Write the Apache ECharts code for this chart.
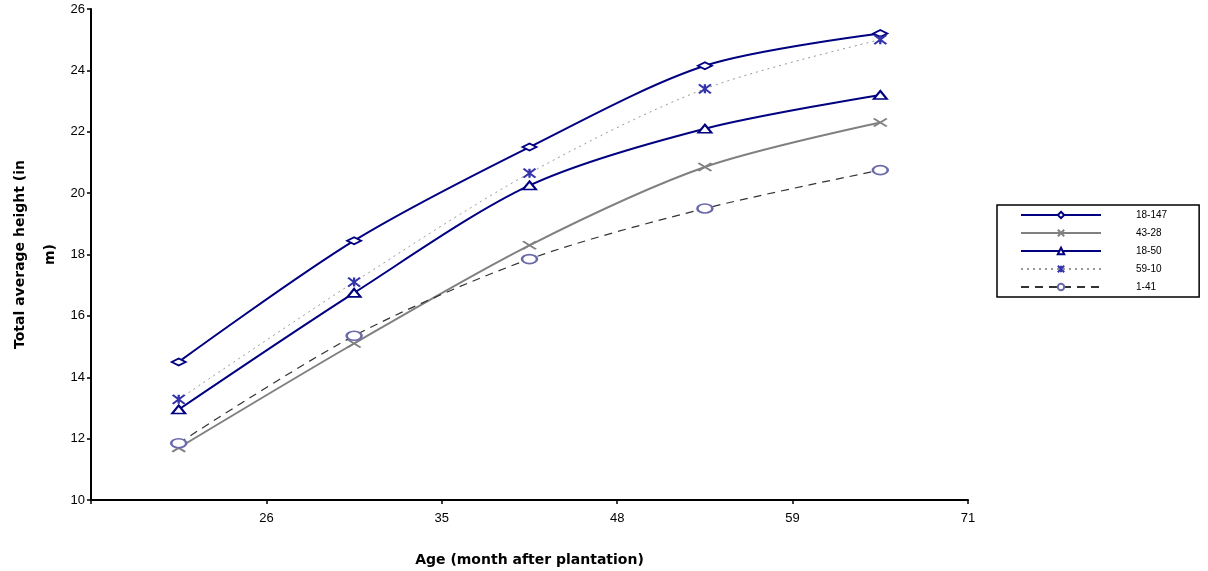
<!DOCTYPE html>
<html>
<head>
<meta charset="utf-8">
<script src="https://cdn.jsdelivr.net/npm/echarts@6/dist/echarts.min.js"></script>
<style>html,body{margin:0;padding:0;background:#fff}#c{width:1208px;height:571px}</style>
</head>
<body>
<div id="c"></div>
<script>
// Tick labels on the x axis (first tick at origin is unlabeled)
const xTickLabels = ['', '26', '35', '48', '59', '71'];
// Observations sit in the middle of each tick interval
const obsIndex = [0, 1, 2, 3, 4];
const seriesNames = ['18-147', '43-28', '18-50', '59-10', '1-41'];
const s18_147 = [14.5, 18.45, 21.5, 24.15, 25.2];
const s43_28  = [11.7, 15.1, 18.3, 20.85, 22.3];
const s18_50  = [12.95, 16.75, 20.25, 22.1, 23.2];
const s59_10  = [13.28, 17.1, 20.65, 23.4, 25.0];
const s1_41   = [11.85, 15.35, 17.85, 19.5, 20.75];

const pts = arr => arr.map((v, i) => [obsIndex[i] + 0.5, v]);
const FONT = 'Liberation Sans';

const chart = echarts.init(document.getElementById('c'), null, {renderer: 'canvas'});
const option = {
  animation: false,
  backgroundColor: '#fff',
  grid: {left: 91, right: 240, top: 9, bottom: 71, containLabel: false, outerBoundsMode: 'none'},
  xAxis: {
    type: 'value', min: 0, max: 5, interval: 1,
    axisLine: {lineStyle: {color: '#000', width: 2}},
    axisTick: {length: 4, lineStyle: {color: '#000', width: 1.5}},
    splitLine: {show: false},
    axisLabel: {color: '#000', fontFamily: FONT, fontSize: 13, margin: 12,
      formatter: v => xTickLabels[Math.round(v)] || ''},
    name: 'Age (month after plantation)', nameLocation: 'middle', nameGap: 53,
    nameMoveOverlap: false,
    nameTextStyle: {color: '#000', fontFamily: 'DejaVu Sans', fontWeight: 'bold', fontSize: 14}
  },
  yAxis: {
    type: 'value', min: 10, max: 26, interval: 2,
    axisLine: {show: true, lineStyle: {color: '#000', width: 2}},
    axisTick: {show: true, length: 4, lineStyle: {color: '#000', width: 1.5}},
    splitLine: {show: false},
    axisLabel: {color: '#000', fontFamily: FONT, fontSize: 13, margin: 6},
    name: 'Total average height (in\nm)', nameLocation: 'middle', nameGap: 26,
    nameMoveOverlap: false,
    nameTextStyle: {color: '#000', fontFamily: 'DejaVu Sans', fontWeight: 'bold', fontSize: 14, lineHeight: 30}
  },
  legend: {
    orient: 'vertical', left: 997, top: 205,
    padding: [5, 32, 5, 23],
    borderColor: '#000', borderWidth: 1.5,
    itemWidth: 80, itemHeight: 8, itemGap: 8,
    textStyle: {color: '#000', fontFamily: FONT, fontSize: 10, padding: [0, 0, 0, 30]},
    data: seriesNames
  },
  series: [
    {name: seriesNames[0], type: 'line', data: pts(s18_147), smooth: 0.3,
      lineStyle: {color: '#000080', width: 2},
      symbol: 'emptyDiamond', symbolSize: [14, 7],
      itemStyle: {color: '#000080', borderColor: '#4a4aa8', borderWidth: 2}},
    {name: seriesNames[1], type: 'line', data: pts(s43_28), smooth: 0.3,
      lineStyle: {color: '#808080', width: 2},
      symbol: 'path://M0,0L12,9M12,0L0,9', symbolSize: [13, 8],
      itemStyle: {color: 'rgba(0,0,0,0)', borderColor: '#808080', borderWidth: 2}},
    {name: seriesNames[2], type: 'line', data: pts(s18_50), smooth: 0.3,
      lineStyle: {color: '#000080', width: 2},
      symbol: 'emptyTriangle', symbolSize: [13, 8],
      itemStyle: {color: '#000080', borderColor: '#3a3a9a', borderWidth: 2}},
    {name: seriesNames[3], type: 'line', data: pts(s59_10), smooth: 0.3,
      lineStyle: {color: '#999', width: 1, type: [2, 4]},
      symbol: 'path://M0,0L12,10M12,0L0,10M6,0L6,10', symbolSize: [12, 9],
      itemStyle: {color: 'rgba(0,0,0,0)', borderColor: '#3333aa', borderWidth: 2}},
    {name: seriesNames[4], type: 'line', data: pts(s1_41), smooth: 0.3,
      lineStyle: {color: '#333', width: 1.2, type: [8, 6]},
      symbol: 'emptyCircle', symbolSize: [15, 9],
      itemStyle: {color: '#6a6aaa', borderColor: '#6a6aaa', borderWidth: 2}}
  ]
};
chart.setOption(option);
</script>
</body>
</html>
